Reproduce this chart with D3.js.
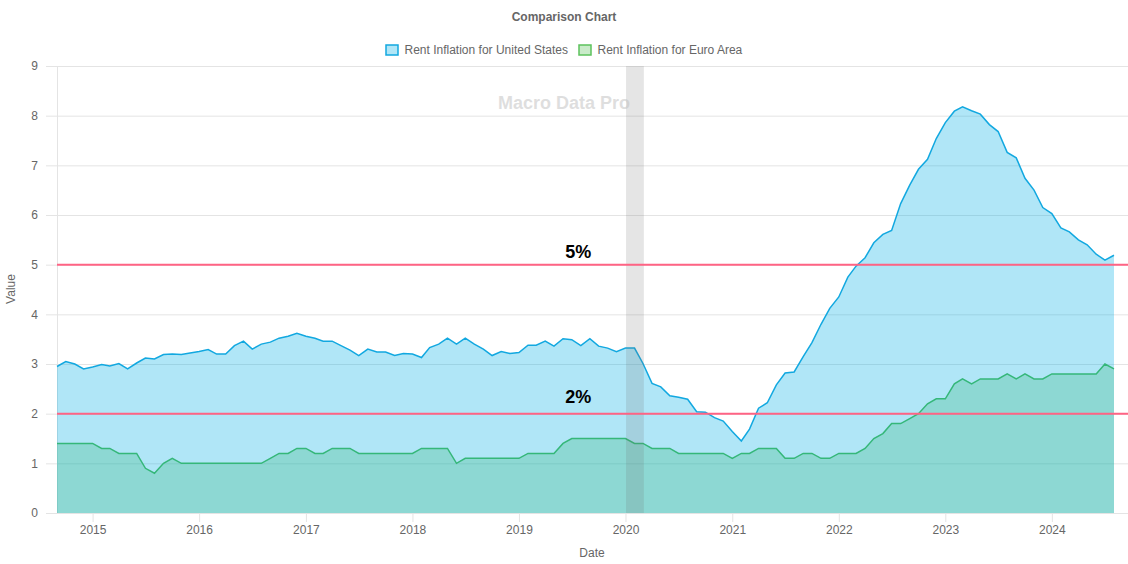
<!DOCTYPE html>
<html>
<head>
<meta charset="utf-8">
<script src="https://cdn.jsdelivr.net/npm/d3@7"></script>
<style>
    html, body { margin: 0; padding: 0; background: #fff; }
    svg { display: block; }
    text { font-family: "Liberation Sans", Arial, sans-serif; fill: #666; }
</style>
</head>
<body>
<div id="chart"></div>
<script>
// monthly readings, Sep 2014 - Aug 2024
var usRent = [
    2.95, 3.05, 3.00, 2.90,
    2.94, 2.99, 2.96, 3.01, 2.90, 3.02, 3.12, 3.10, 3.19, 3.20, 3.19, 3.22,
    3.25, 3.29, 3.20, 3.20, 3.37, 3.46, 3.30, 3.40, 3.44, 3.52, 3.56, 3.62,
    3.56, 3.52, 3.46, 3.46, 3.37, 3.28, 3.17, 3.30, 3.24, 3.24, 3.17, 3.21,
    3.20, 3.13, 3.33, 3.40, 3.52, 3.40, 3.52, 3.40, 3.30, 3.17, 3.25, 3.21,
    3.23, 3.38, 3.38, 3.46, 3.36, 3.51, 3.49, 3.37, 3.51, 3.36, 3.32, 3.25,
    3.32, 3.32, 3.01, 2.61, 2.54, 2.36, 2.33, 2.29, 2.04, 2.03, 1.92, 1.85,
    1.64, 1.45, 1.69, 2.11, 2.22, 2.58, 2.82, 2.84, 3.15, 3.43, 3.80, 4.12,
    4.35, 4.75, 4.97, 5.14, 5.44, 5.61, 5.69, 6.23, 6.60, 6.92, 7.12, 7.54,
    7.86, 8.09, 8.18, 8.10, 8.03, 7.82, 7.68, 7.26, 7.15, 6.74, 6.50, 6.15,
    6.03, 5.74, 5.66, 5.50, 5.40, 5.21, 5.09, 5.19
];

var euroRent = [
    1.4, 1.4, 1.4, 1.4,
    1.4, 1.3, 1.3, 1.2, 1.2, 1.2, 0.9, 0.8, 1.0, 1.1, 1.0, 1.0,
    1.0, 1.0, 1.0, 1.0, 1.0, 1.0, 1.0, 1.0, 1.1, 1.2, 1.2, 1.3,
    1.3, 1.2, 1.2, 1.3, 1.3, 1.3, 1.2, 1.2, 1.2, 1.2, 1.2, 1.2,
    1.2, 1.3, 1.3, 1.3, 1.3, 1.0, 1.1, 1.1, 1.1, 1.1, 1.1, 1.1,
    1.1, 1.2, 1.2, 1.2, 1.2, 1.4, 1.5, 1.5, 1.5, 1.5, 1.5, 1.5,
    1.5, 1.4, 1.4, 1.3, 1.3, 1.3, 1.2, 1.2, 1.2, 1.2, 1.2, 1.2,
    1.1, 1.2, 1.2, 1.3, 1.3, 1.3, 1.1, 1.1, 1.2, 1.2, 1.1, 1.1,
    1.2, 1.2, 1.2, 1.3, 1.5, 1.6, 1.8, 1.8, 1.9, 2.0, 2.2, 2.3,
    2.3, 2.6, 2.7, 2.6, 2.7, 2.7, 2.7, 2.8, 2.7, 2.8, 2.7, 2.7,
    2.8, 2.8, 2.8, 2.8, 2.8, 2.8, 3.0, 2.9
];

var dates = d3.timeMonth.range(new Date(2014, 8, 1), new Date(2024, 8, 1));
var axisEnd = new Date(2024, 8, 18);
var yearTicks = d3.timeYear.range(new Date(2015, 0, 1), new Date(2025, 0, 1));
var valueTicks = [0, 1, 2, 3, 4, 5, 6, 7, 8, 9];

var recession = [new Date(2020, 0, 3), new Date(2020, 2, 4)];
var thresholds = [5, 2];
var thresholdLabelDate = new Date(2019, 6, 23);

var width = 1128,
    height = 564,
    margin = {left: 57, top: 66, right: 0, bottom: 51};

var usLine = "#12a8e0", usFill = "rgba(0,175,230,0.31)",
    euroLine = "#35b779", euroFill = "rgba(60,185,130,0.3)",
    legendGreenLine = "#5cc25c", legendGreenFill = "rgba(92,194,92,0.33)",
    gridColor = "#e4e4e4", redLine = "#ff6384";

var svg = d3.select("#chart")
            .append("svg")
            .attr("width", width)
            .attr("height", height);

var xScale = d3.scaleTime()
                .domain([dates[0], axisEnd])
                .range([margin.left, width - margin.right]);

var yScale = d3.scaleLinear()
                .domain([0, 9])
                .range([height - margin.bottom, margin.top]);

// axes
var xAxis = d3.axisBottom(xScale)
                .tickValues(yearTicks)
                .tickFormat(d3.timeFormat("%Y"))
                .tickSize(9)
                .tickPadding(3);

var yAxis = d3.axisLeft(yScale)
                .tickValues(valueTicks)
                .tickSize(width - margin.left - margin.right + 11)
                .tickPadding(8);

var gy = svg.append("g")
    .attr("transform", "translate(" + (width - margin.right) + ", 0)")
    .call(yAxis);
gy.select(".domain").remove();
gy.selectAll("line").attr("stroke", gridColor);
gy.selectAll("text").style("font-size", "12px").attr("fill", "#666");

var gx = svg.append("g")
    .attr("transform", "translate(0," + (height - margin.bottom) + ")")
    .call(xAxis);
gx.select(".domain").remove();
gx.selectAll("line").attr("stroke", gridColor);
gx.selectAll("text").style("font-size", "12px").attr("fill", "#666");

// left border of the plot
svg.append("line")
    .attr("x1", xScale.range()[0] + 0.5)
    .attr("x2", xScale.range()[0] + 0.5)
    .attr("y1", yScale(9))
    .attr("y2", yScale(0))
    .attr("stroke", gridColor);

// areas
var area = d3.area()
    .x(function (d, i) { return xScale(dates[i]); })
    .y0(yScale(0))
    .y1(function (d) { return yScale(d); });

var line = d3.line()
    .x(function (d, i) { return xScale(dates[i]); })
    .y(function (d) { return yScale(d); });

var addSeries = function (values, fill, stroke) {
    svg.append("path").datum(values)
        .attr("d", area)
        .attr("fill", fill);
    svg.append("path").datum(values)
        .attr("d", line)
        .attr("fill", "none")
        .attr("stroke", stroke)
        .attr("stroke-width", 1.5);
};

addSeries(usRent, usFill, usLine);
addSeries(euroRent, euroFill, euroLine);

// recession band
svg.append("rect")
    .attr("x", xScale(recession[0]))
    .attr("y", yScale(9))
    .attr("width", xScale(recession[1]) - xScale(recession[0]))
    .attr("height", yScale(0) - yScale(9))
    .attr("fill", "rgba(110,110,110,0.18)");

// watermark
svg.append("text")
    .attr("x", width / 2)
    .attr("y", 109)
    .attr("text-anchor", "middle")
    .style("font-size", "18px")
    .style("font-weight", "bold")
    .style("fill", "rgba(190,190,190,0.5)")
    .text("Macro Data Pro");

// threshold lines, the 2% label sits a little higher above its line
thresholds.forEach(function (t) {
    svg.append("line")
        .attr("x1", xScale.range()[0])
        .attr("x2", xScale.range()[1])
        .attr("y1", yScale(t))
        .attr("y2", yScale(t))
        .attr("stroke", redLine)
        .attr("stroke-width", 2);

    svg.append("text")
        .attr("x", xScale(thresholdLabelDate))
        .attr("y", yScale(t) - (t == 2 ? 11 : 7))
        .attr("text-anchor", "middle")
        .style("font-size", "18px")
        .style("font-weight", "bold")
        .style("fill", "#000")
        .text(t + "%");
});

// title and axis titles
svg.append("text")
    .attr("x", width / 2)
    .attr("y", 21)
    .attr("text-anchor", "middle")
    .style("font-size", "12px")
    .style("font-weight", "bold")
    .text("Comparison Chart");

svg.append("text")
    .attr("x", 592)
    .attr("y", 557)
    .attr("text-anchor", "middle")
    .style("font-size", "12px")
    .text("Date");

svg.append("text")
    .attr("transform", "translate(15," + 289 + ") rotate(-90)")
    .attr("text-anchor", "middle")
    .style("font-size", "12px")
    .text("Value");

// legend
var legendItems = [
    {label: "Rent Inflation for United States", x: 386, fill: usFill, stroke: usLine},
    {label: "Rent Inflation for Euro Area", x: 579, fill: legendGreenFill, stroke: legendGreenLine}
];

legendItems.forEach(function (item) {
    svg.append("rect")
        .attr("x", item.x)
        .attr("y", 45)
        .attr("width", 12)
        .attr("height", 10)
        .attr("fill", item.fill)
        .attr("stroke", item.stroke)
        .attr("stroke-width", 1.5);

    svg.append("text")
        .attr("x", item.x + 18.5)
        .attr("y", 54)
        .style("font-size", "12px")
        .text(item.label);
});
</script>
</body>
</html>
